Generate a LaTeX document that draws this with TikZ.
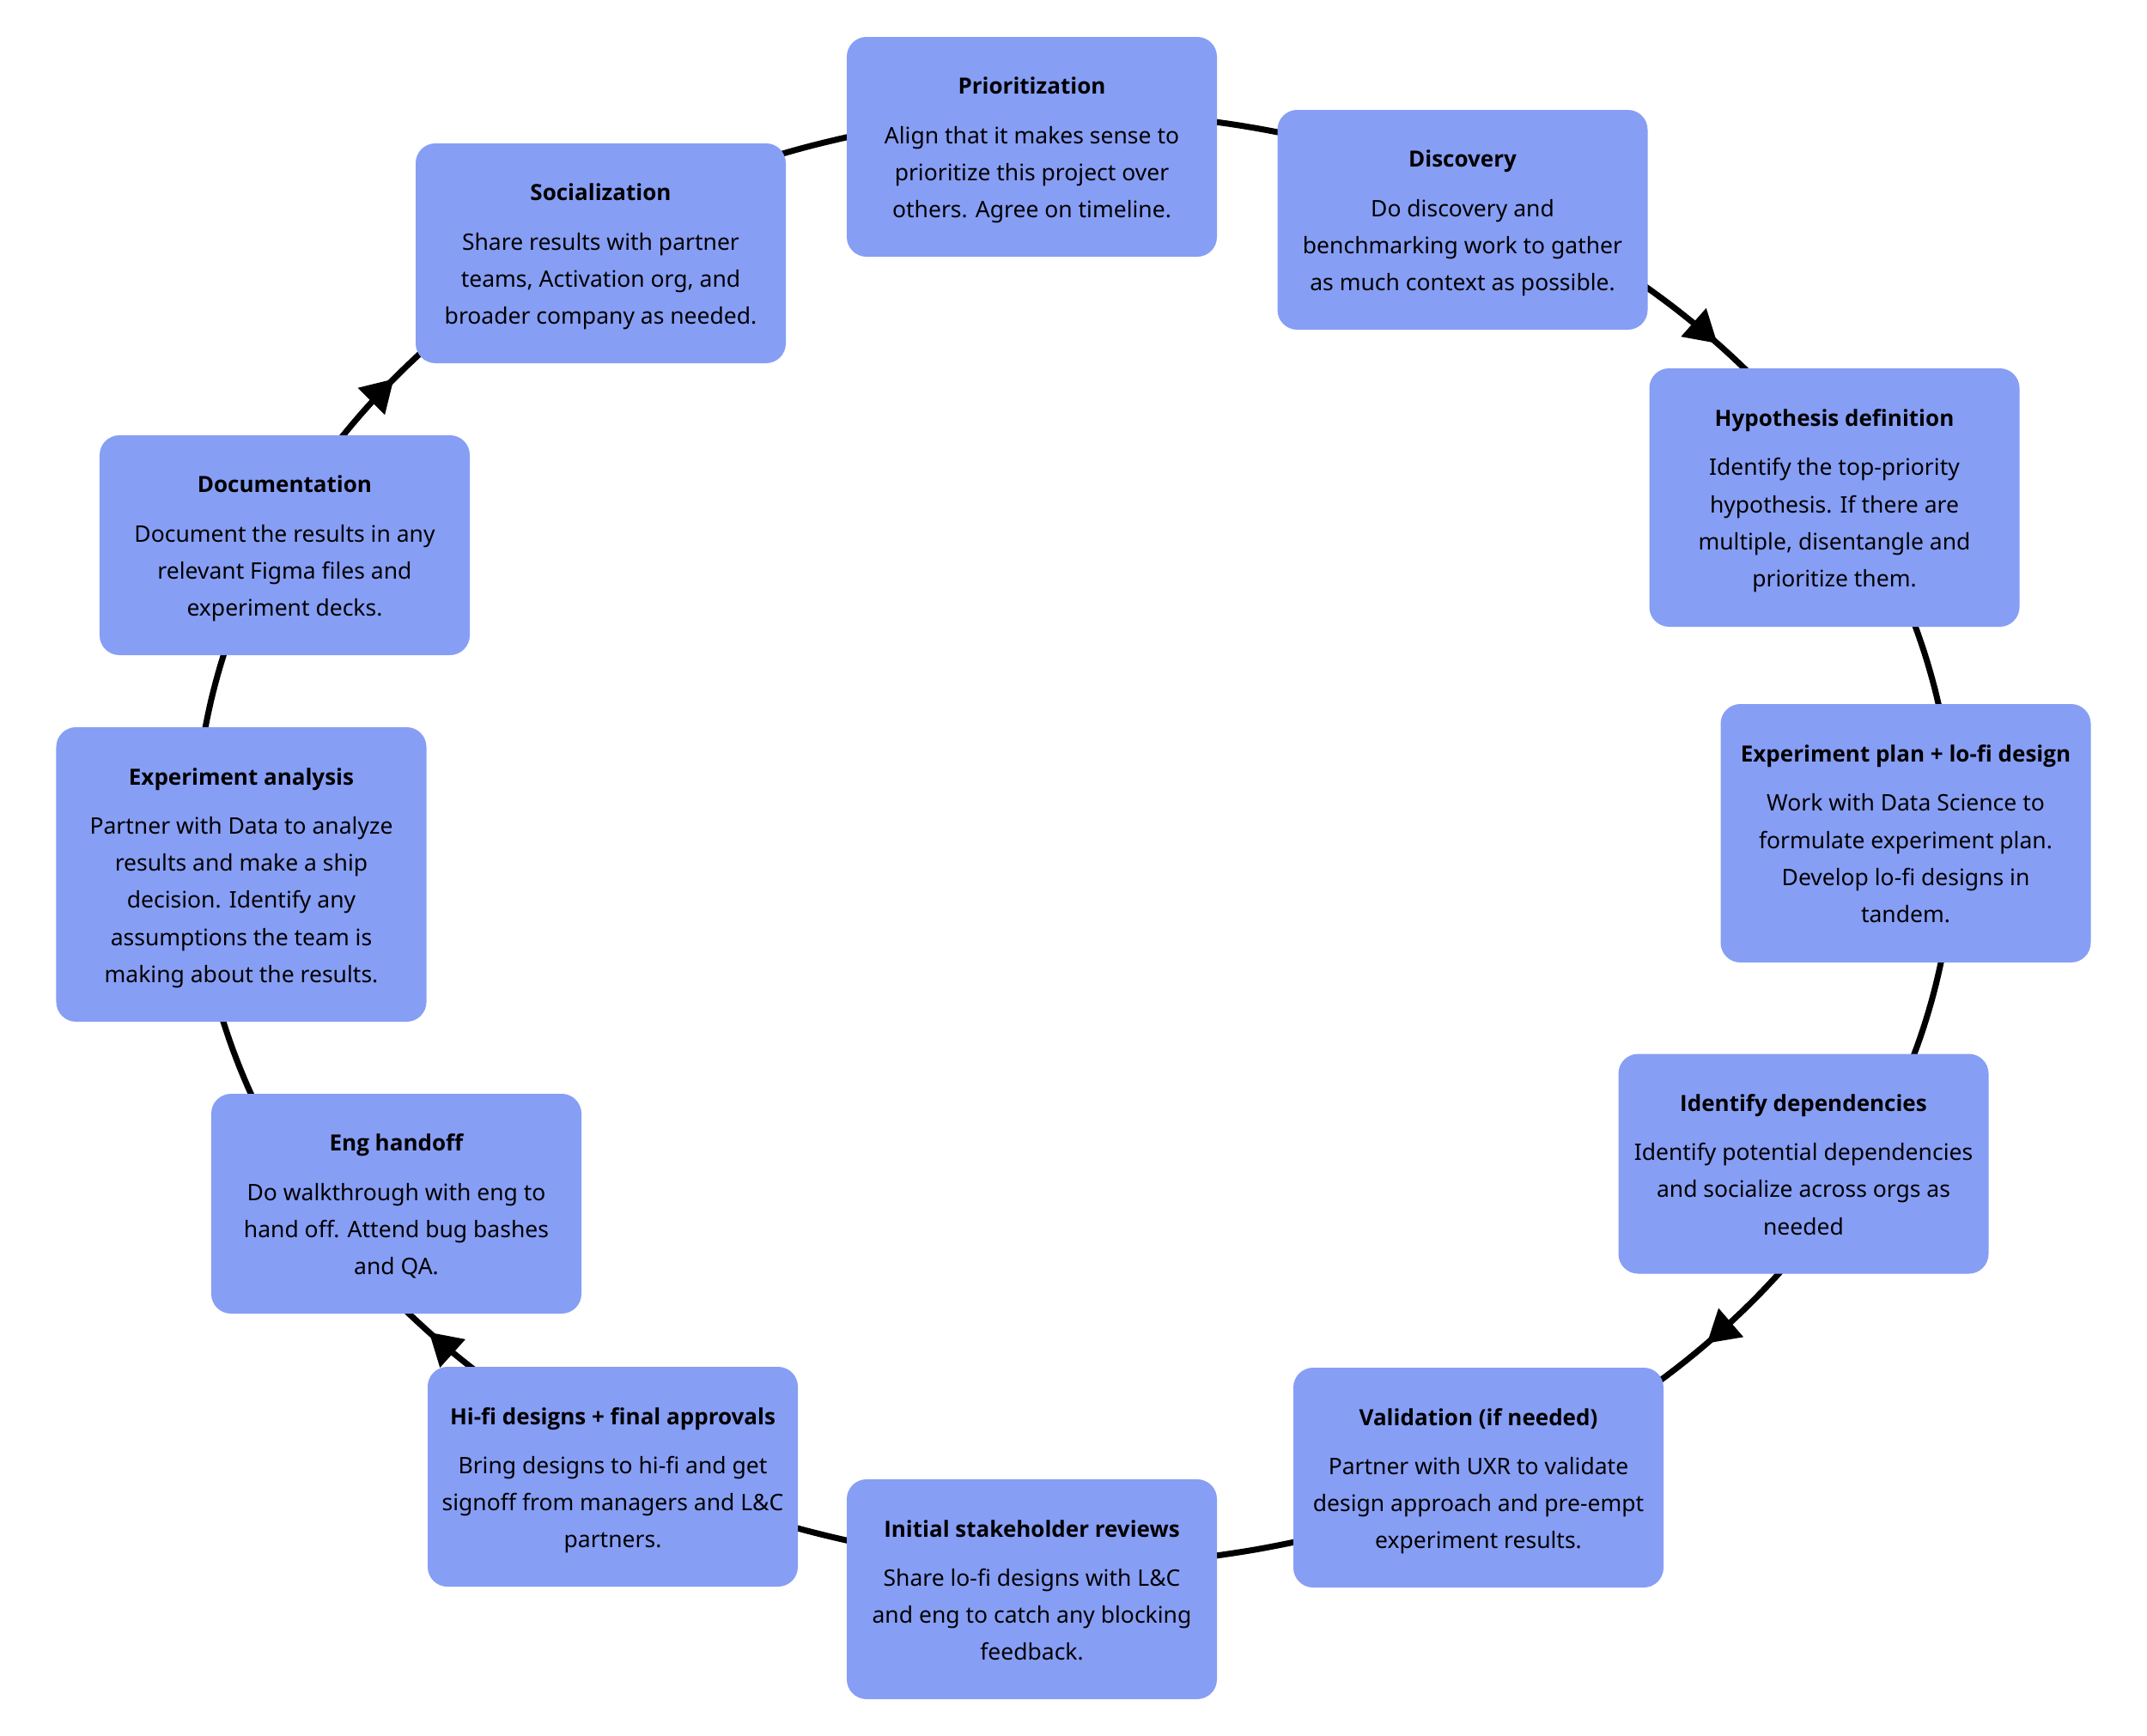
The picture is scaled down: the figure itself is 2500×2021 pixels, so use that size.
\documentclass[tikz,border=0pt]{standalone}
\usepackage{fontspec}
\setmainfont{Noto Sans}
\IfFontExistsTF{Noto Sans Bold}{\newfontfamily\titlefont{Noto Sans Bold}}{%
  \IfFontExistsTF{Open Sans Bold}{\newfontfamily\titlefont{Open Sans Bold}}{%
    \newfontfamily\titlefont{Noto Sans}[FakeBold=2.5]}}
\usetikzlibrary{arrows.meta,decorations.markings,backgrounds}
\definecolor{boxblue}{RGB}{135,158,245}
\newcommand{\toprl}{\rule{0pt}{13.84pt}}
\newcommand{\botrl}{\rule[-5.2pt]{0pt}{5.2pt}}
\newcommand{\ttl}[1]{\toprl{\titlefont\fontsize{10.4pt}{17.32pt}\selectfont #1}}
\begin{document}
\begin{tikzpicture}[x=0.4pt, y=-0.4pt,
  box/.style={rectangle, rounded corners=9.2pt, fill=boxblue, draw=none,
    minimum width=172.4pt, inner sep=0pt, align=center, text=black,
    font=\fontsize{10.6pt}{17.32pt}\selectfont},
  box3/.style={box, minimum height=102.4pt},
  box4/.style={box, minimum height=120.4pt},
  box5/.style={box, minimum height=137.2pt},
  conn/.style={line width=2.8pt, black},
  arrowat/.style={postaction={decorate}, decoration={markings,
    mark=at position #1 with {\arrow{Triangle[length=14.8pt,width=17pt]}}}}
]
\useasboundingbox (0,0) rectangle (2500,2021);

\node[box3] (prio) at (1201.5,171) {\ttl{Prioritization}\\[5.5pt]
  Align that it makes sense to\\ prioritize this project over\\ others. Agree on timeline.\botrl};
\node[box3] (disc) at (1703,256) {\ttl{Discovery}\\[5.5pt]
  Do discovery and\\ benchmarking work to gather\\ as much context as possible.\botrl};
\node[box4] (hyp) at (2136,579.5) {\ttl{Hypothesis definition}\\[5.5pt]
  Identify the top-priority\\ hypothesis. If there are\\ multiple, disentangle and\\ prioritize them.\botrl};
\node[box4] (plan) at (2219,970.5) {\ttl{Experiment plan + lo-fi design}\\[5.5pt]
  Work with Data Science to\\ formulate experiment plan.\\ Develop lo-fi designs in\\ tandem.\botrl};
\node[box3] (dep) at (2100,1355.5) {\ttl{Identify dependencies}\\[5.5pt]
  Identify potential dependencies\\ and socialize across orgs as\\ needed\botrl};
\node[box3] (val) at (1721.5,1721) {\ttl{Validation (if needed)}\\[5.5pt]
  Partner with UXR to validate\\ design approach and pre-empt\\ experiment results.\botrl};
\node[box3] (stake) at (1201.5,1851) {\ttl{Initial stakeholder reviews}\\[5.5pt]
  Share lo-fi designs with L\&C\\ and eng to catch any blocking\\ feedback.\botrl};
\node[box3] (hifi) at (713.5,1720) {\ttl{Hi-fi designs + final approvals}\\[5.5pt]
  Bring designs to hi-fi and get\\ signoff from managers and L\&C\\ partners.\botrl};
\node[box3] (eng) at (461.5,1402) {\ttl{Eng handoff}\\[5.5pt]
  Do walkthrough with eng to\\ hand off. Attend bug bashes\\ and QA.\botrl};
\node[box5] (anal) at (281,1018.5) {\ttl{Experiment analysis}\\[5.5pt]
  Partner with Data to analyze\\ results and make a ship\\ decision. Identify any\\ assumptions the team is\\ making about the results.\botrl};
\node[box3] (doc) at (331.5,635) {\ttl{Documentation}\\[5.5pt]
  Document the results in any\\ relevant Figma files and\\ experiment decks.\botrl};
\node[box3] (soc) at (699.5,295) {\ttl{Socialization}\\[5.5pt]
  Share results with partner\\ teams, Activation org, and\\ broader company as needed.\botrl};

\begin{pgfonlayer}{background}
\fill[white] (0,0) rectangle (2500,2021);
% connectors: arcs of the cycle ellipse, from node to node (clockwise)
% prio -> disc
\draw[conn] plot[domain=267:297.2, samples=40] ({1251+1024*cos(\x)},{977+846*sin(\x)});
% disc -> hyp
\draw[conn, arrowat=0.592] plot[domain=297.2:331.4, samples=40] ({1251+1024*cos(\x)},{977+846*sin(\x)});
% hyp -> plan
\draw[conn] plot[domain=331.4:359.5, samples=40] ({1251+1024*cos(\x)},{977+846*sin(\x)});
% plan -> dep
\draw[conn] plot[domain=359.5:388.5, samples=40] ({1251+1024*cos(\x)},{977+846*sin(\x)});
% dep -> val
\draw[conn, arrowat=0.441] plot[domain=388.5:422.6, samples=40] ({1251+1024*cos(\x)},{977+846*sin(\x)});
% val -> stake
\draw[conn] plot[domain=422.6:452.8, samples=40] ({1251+1024*cos(\x)},{977+846*sin(\x)});
% stake -> hifi
\draw[conn] plot[domain=452.8:480.9, samples=40] ({1251+1024*cos(\x)},{977+846*sin(\x)});
% hifi -> eng
\draw[conn, arrowat=0.637] plot[domain=480.9:506.9, samples=40] ({1251+1024*cos(\x)},{977+846*sin(\x)});
% eng -> anal
\draw[conn] plot[domain=506.9:537, samples=40] ({1251+1024*cos(\x)},{977+846*sin(\x)});
% anal -> doc
\draw[conn] plot[domain=537:564.3, samples=40] ({1251+1024*cos(\x)},{977+846*sin(\x)});
% doc -> soc
\draw[conn, arrowat=0.457] plot[domain=564.3:596.2, samples=40] ({1251+1024*cos(\x)},{977+846*sin(\x)});
% soc -> prio
\draw[conn] plot[domain=596.2:627, samples=40] ({1251+1024*cos(\x)},{977+846*sin(\x)});
\end{pgfonlayer}
\end{tikzpicture}
\end{document}
